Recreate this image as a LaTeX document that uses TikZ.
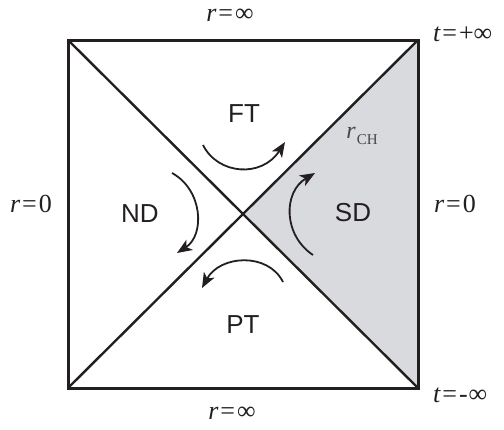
\documentclass[tikz,border=0pt]{standalone}
\usepackage{fontspec}
\setmainfont{Liberation Serif}
\newfontfamily\lblfont{Liberation Sans}
\usetikzlibrary{arrows.meta}
\definecolor{lineblk}{RGB}{35,31,32}
\definecolor{sdgray}{RGB}{217,218,221}
\definecolor{chgray}{RGB}{70,70,72}
\tikzset{
  region/.style={font=\lblfont\fontsize{26}{30}\selectfont, text=lineblk},
  edgelbl/.style={font=\fontsize{26}{30}\selectfont, text=lineblk, inner sep=0pt},
  flow/.style={draw=lineblk, line width=1.8pt, -{Stealth[length=15pt,width=12pt,inset=4pt]}},
  frame/.style={draw=lineblk, line width=3pt, line join=miter},
  diag/.style={draw=lineblk, line width=2.4pt}
}
\begin{document}
\begin{tikzpicture}[x=1pt,y=-1pt]
\useasboundingbox (0,0) rectangle (504,429);
\coordinate (tl) at (68,40);
\coordinate (tr) at (418,40);
\coordinate (br) at (418,388);
\coordinate (bl) at (68,388);
\coordinate (c) at (243,214);
\fill[fill=sdgray] (c) -- (tr) -- (br) -- cycle;
\draw[diag] (tl) -- (br);
\draw[diag] (bl) -- (tr);
\draw[frame] (tl) -- (tr) -- (br) -- (bl) -- cycle;
% region labels
\node[region] (ft) at (244,114) {FT};
\node[region] (nd) at (140,214) {ND};
\node[region] (sd) at (353,213) {SD};
\node[region] (pt) at (243,325) {PT};
\node[font=\fontsize{24}{28}\selectfont, text=chgray] (rch) at (362,136) {\itshape r\upshape\kern1pt\raisebox{-0.22em}{\fontsize{15}{17}\selectfont CH}};
% edge labels
\node[edgelbl] (rtop) at (230,15) {\itshape r\upshape\kern2pt=\kern2pt∞};
\node[edgelbl] (rbot) at (232,413) {\itshape r\upshape\kern2pt=\kern2pt∞};
\node[edgelbl] (rleft) at (31,204) {\itshape r\upshape\kern2pt=\kern2pt0};
\node[edgelbl] (rright) at (455,204) {\itshape r\upshape\kern2pt=\kern2pt0};
\node[edgelbl, anchor=west] (tp) at (433,34) {\itshape t\upshape\kern2pt=\kern2pt+∞};
\node[edgelbl, anchor=west] (tm) at (433,395) {\itshape t\upshape\kern2pt=\kern2pt-\kern1pt∞};
% flow arrows
\coordinate (fa) at (203,145); \coordinate (fb) at (285,142);
\draw[flow] (fa) .. controls (218,175) and (262,178) .. (fb);
\coordinate (na) at (172,173); \coordinate (nb) at (177,253);
\draw[flow] (na) .. controls (203,190) and (205,235) .. (nb);
\coordinate (sa) at (313,255); \coordinate (sb) at (315,173);
\draw[flow] (sa) .. controls (283,235) and (283,192) .. (sb);
\coordinate (pa) at (283,282); \coordinate (pb) at (202,288);
\draw[flow] (pa) .. controls (268,252) and (220,255) .. (pb);
\end{tikzpicture}
\end{document}
